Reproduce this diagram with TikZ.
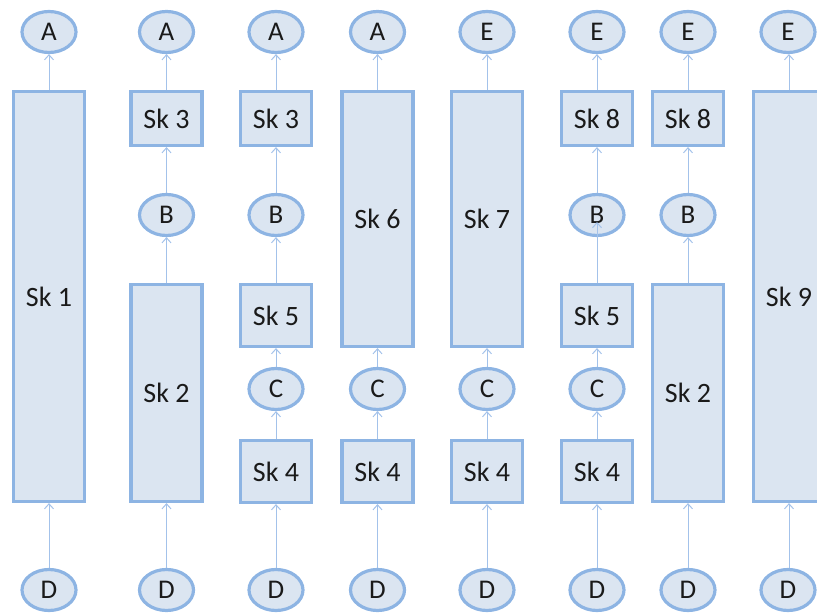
\documentclass[tikz,border=0pt]{standalone}
\usepackage{fontspec}
\setmainfont{Carlito}
\usetikzlibrary{shapes.geometric,arrows.meta}
\definecolor{fillblue}{HTML}{DBE5F1}
\definecolor{edgeblue}{HTML}{8DB4E3}
\definecolor{linkblue}{HTML}{A3C2EA}
\definecolor{txt}{HTML}{1A1A1A}
\tikzset{
  ell/.style={ellipse, draw=edgeblue, fill=fillblue, line width=3.2pt, minimum width=54pt, minimum height=41pt, inner sep=0pt, font=\fontsize{27}{27}\selectfont, text=txt},
  skbox/.style={rectangle, draw=edgeblue, fill=fillblue, line width=3.2pt, minimum width=71pt, inner sep=0pt, font=\fontsize{28}{28}\selectfont, text=txt},
  link/.style={draw=linkblue, line width=1pt, -{Straight Barb[length=5pt,width=9pt]}}
}
\begin{document}
\begin{tikzpicture}[x=1pt,y=-1pt]
\useasboundingbox (0,0) rectangle (817,613);
% column 1
\node[ell] (a1) at (49,32) {A};
\node[skbox, minimum height=410pt] (sk1) at (49,296.5) {Sk 1};
\node[ell] (d1) at (49,590) {D};
% column 2
\node[ell] (a2) at (166.5,32) {A};
\node[skbox, minimum height=54pt] (sk3a) at (166.5,118.5) {Sk 3};
\node[ell] (b2) at (166.5,215) {B};
\node[skbox, minimum height=217pt] (sk2a) at (166.5,393) {Sk 2};
\node[ell] (d2) at (166.5,590) {D};
% column 3
\node[ell] (a3) at (276,32) {A};
\node[skbox, minimum height=54pt] (sk3b) at (276,118.5) {Sk 3};
\node[ell] (b3) at (276,215) {B};
\node[skbox, minimum height=62pt] (sk5a) at (276,315.5) {Sk 5};
\node[ell] (c3) at (276,389) {C};
\node[skbox, minimum height=62pt] (sk4a) at (276,471.5) {Sk 4};
\node[ell] (d3) at (276,590) {D};
% column 4
\node[ell] (a4) at (377.5,32) {A};
\node[skbox, minimum height=255pt] (sk6) at (377.5,219) {Sk 6};
\node[ell] (c4) at (377.5,389) {C};
\node[skbox, minimum height=62pt] (sk4b) at (377.5,471.5) {Sk 4};
\node[ell] (d4) at (377.5,590) {D};
% column 5
\node[ell] (e5) at (487,32) {E};
\node[skbox, minimum height=255pt] (sk7) at (487,219) {Sk 7};
\node[ell] (c5) at (487,389) {C};
\node[skbox, minimum height=62pt] (sk4c) at (487,471.5) {Sk 4};
\node[ell] (d5) at (487,590) {D};
% column 6
\node[ell] (e6) at (597,32) {E};
\node[skbox, minimum height=54pt] (sk8a) at (597,118.5) {Sk 8};
\node[ell] (b6) at (597,215) {B};
\node[skbox, minimum height=62pt] (sk5b) at (597,315.5) {Sk 5};
\node[ell] (c6) at (597,389) {C};
\node[skbox, minimum height=62pt] (sk4d) at (597,471.5) {Sk 4};
\node[ell] (d6) at (597,590) {D};
\coordinate (b6in) at (597,222);
% column 7
\node[ell] (e7) at (688,32) {E};
\node[skbox, minimum height=54pt] (sk8b) at (688,118.5) {Sk 8};
\node[ell] (b7) at (688,215) {B};
\node[skbox, minimum height=217pt] (sk2b) at (688,393) {Sk 2};
\node[ell] (d7) at (688,590) {D};
% column 8
\node[ell] (e8) at (788,32) {E};
\node[skbox, minimum height=410pt] (sk9) at (789,296.5) {Sk 9};
\node[ell] (d8) at (788,590) {D};
% connectors
\draw[link] (d1) -- (sk1);
\draw[link] (sk1) -- (a1);
\draw[link] (d2) -- (sk2a);
\draw[link] (sk2a) -- (b2);
\draw[link] (b2) -- (sk3a);
\draw[link] (sk3a) -- (a2);
\draw[link] (d3) -- (sk4a);
\draw[link] (sk4a) -- (c3);
\draw[link] (c3) -- (sk5a);
\draw[link] (sk5a) -- (b3);
\draw[link] (b3) -- (sk3b);
\draw[link] (sk3b) -- (a3);
\draw[link] (d4) -- (sk4b);
\draw[link] (sk4b) -- (c4);
\draw[link] (c4) -- (sk6);
\draw[link] (sk6) -- (a4);
\draw[link] (d5) -- (sk4c);
\draw[link] (sk4c) -- (c5);
\draw[link] (c5) -- (sk7);
\draw[link] (sk7) -- (e5);
\draw[link] (d6) -- (sk4d);
\draw[link] (sk4d) -- (c6);
\draw[link] (c6) -- (sk5b);
\draw[link] (sk5b.north) -- (b6in);
\draw[link] (b6) -- (sk8a);
\draw[link] (sk8a) -- (e6);
\draw[link] (d7) -- (sk2b);
\draw[link] (sk2b) -- (b7);
\draw[link] (b7) -- (sk8b);
\draw[link] (sk8b) -- (e7);
\draw[link] (d8.north -| sk9.south) -- (sk9.south);
\draw[link] (sk9.north) -- (e8.south -| sk9.north);
\end{tikzpicture}
\end{document}
